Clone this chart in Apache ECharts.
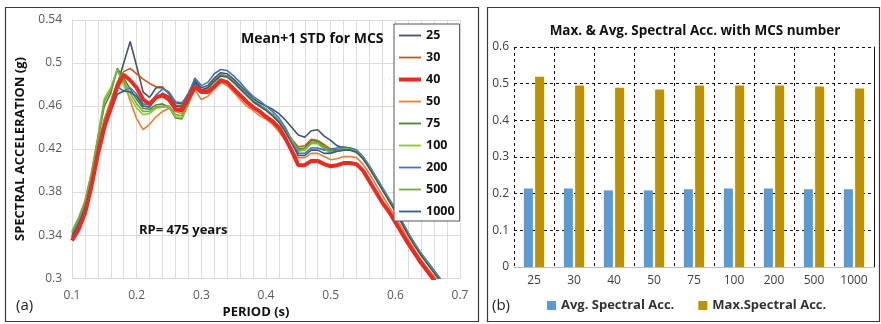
<!DOCTYPE html>
<html><head><meta charset="utf-8">
<script src="https://cdn.jsdelivr.net/npm/echarts@6/dist/echarts.min.js"></script>
<style>html,body{margin:0;padding:0;background:#fff}#c{width:881px;height:324px}</style>
</head><body><div id="c"></div>
<script>
// ---------- Panel (a): spectral acceleration vs period ----------
const periods = [
  0.10,0.11,0.12,0.13,0.14,0.15,0.16,0.17,0.18,0.19,
  0.20,0.21,0.22,0.23,0.24,0.25,0.26,0.27,0.28,0.29,
  0.30,0.31,0.32,0.33,0.34,0.35,0.36,0.37,0.38,0.39,
  0.40,0.41,0.42,0.43,0.44,0.45,0.46,0.47,0.48,0.49,
  0.50,0.51,0.52,0.53,0.54,0.55,0.56,0.57,0.58,0.59,
  0.60,0.61,0.62,0.63,0.64,0.65,0.66,0.67];
const mcsNames = ['25','30','40','50','75','100','200','500','1000'];
const sa25 = [
  0.338,0.349,0.365,0.390,0.422,0.445,0.462,0.480,0.500,0.520,
  0.497,0.473,0.468,0.477,0.477,0.472,0.463,0.462,0.472,0.484,
  0.477,0.479,0.486,0.491,0.490,0.485,0.479,0.473,0.467,0.463,
  0.460,0.457,0.453,0.447,0.440,0.433,0.431,0.437,0.438,0.432,
  0.428,0.423,0.421,0.420,0.418,0.412,0.403,0.393,0.383,0.373,
  0.363,0.352,0.341,0.331,0.322,0.314,0.306,0.298];
const sa30 = [
  0.340,0.351,0.367,0.392,0.424,0.448,0.465,0.482,0.492,0.495,
  0.490,0.485,0.481,0.478,0.478,0.471,0.461,0.460,0.470,0.482,
  0.475,0.477,0.484,0.489,0.488,0.483,0.477,0.471,0.465,0.461,
  0.457,0.452,0.446,0.438,0.429,0.422,0.423,0.429,0.428,0.424,
  0.420,0.419,0.420,0.420,0.417,0.411,0.402,0.392,0.382,0.372,
  0.362,0.351,0.340,0.330,0.321,0.313,0.305,0.297];
const sa40 = [
  0.335,0.345,0.360,0.385,0.415,0.440,0.458,0.478,0.489,0.484,
  0.477,0.466,0.462,0.468,0.470,0.466,0.457,0.456,0.467,0.478,
  0.473,0.473,0.478,0.484,0.482,0.476,0.470,0.464,0.459,0.455,
  0.450,0.446,0.440,0.430,0.418,0.405,0.405,0.409,0.409,0.406,
  0.404,0.405,0.407,0.407,0.406,0.400,0.390,0.380,0.370,0.362,
  0.352,0.342,0.332,0.323,0.314,0.306,0.298,0.290];
const sa50 = [
  0.337,0.348,0.364,0.389,0.420,0.446,0.464,0.480,0.483,0.465,
  0.448,0.438,0.443,0.450,0.455,0.458,0.455,0.453,0.462,0.475,
  0.466,0.469,0.476,0.482,0.479,0.473,0.466,0.460,0.456,0.451,
  0.448,0.443,0.436,0.428,0.419,0.412,0.412,0.416,0.416,0.413,
  0.410,0.411,0.413,0.413,0.412,0.406,0.397,0.387,0.377,0.367,
  0.357,0.347,0.336,0.326,0.317,0.309,0.302,0.294];
const sa75 = [
  0.342,0.354,0.370,0.396,0.429,0.460,0.472,0.495,0.486,0.476,
  0.466,0.458,0.457,0.461,0.462,0.459,0.449,0.448,0.462,0.480,
  0.473,0.476,0.483,0.489,0.488,0.483,0.477,0.471,0.465,0.461,
  0.457,0.452,0.446,0.437,0.428,0.420,0.421,0.428,0.427,0.422,
  0.418,0.419,0.421,0.421,0.419,0.413,0.404,0.394,0.384,0.374,
  0.364,0.353,0.342,0.332,0.323,0.315,0.307,0.299];
const sa100 = [
  0.344,0.356,0.372,0.398,0.432,0.467,0.477,0.494,0.479,0.468,
  0.458,0.452,0.453,0.458,0.459,0.459,0.450,0.449,0.463,0.479,
  0.472,0.475,0.482,0.488,0.487,0.482,0.476,0.470,0.464,0.460,
  0.456,0.451,0.445,0.436,0.427,0.418,0.419,0.425,0.425,0.420,
  0.416,0.418,0.420,0.420,0.418,0.412,0.403,0.393,0.383,0.373,
  0.363,0.352,0.341,0.331,0.322,0.314,0.306,0.298];
const sa200 = [
  0.339,0.350,0.366,0.390,0.420,0.445,0.460,0.478,0.474,0.477,
  0.471,0.462,0.461,0.470,0.476,0.473,0.464,0.463,0.470,0.486,
  0.479,0.482,0.490,0.494,0.493,0.488,0.482,0.475,0.469,0.465,
  0.460,0.455,0.449,0.440,0.428,0.416,0.416,0.421,0.421,0.419,
  0.420,0.421,0.422,0.421,0.419,0.413,0.404,0.394,0.384,0.374,
  0.364,0.353,0.342,0.332,0.323,0.315,0.307,0.299];
const sa500 = [
  0.343,0.355,0.371,0.397,0.430,0.464,0.475,0.493,0.483,0.472,
  0.462,0.455,0.455,0.459,0.460,0.460,0.452,0.451,0.464,0.480,
  0.473,0.476,0.483,0.489,0.488,0.483,0.477,0.471,0.465,0.461,
  0.457,0.452,0.446,0.437,0.428,0.419,0.420,0.426,0.426,0.421,
  0.417,0.418,0.419,0.420,0.418,0.412,0.403,0.393,0.383,0.373,
  0.363,0.352,0.341,0.331,0.322,0.314,0.306,0.298];
const sa1000 = [
  0.338,0.349,0.364,0.388,0.418,0.442,0.455,0.471,0.474,0.473,
  0.469,0.460,0.459,0.467,0.472,0.469,0.460,0.459,0.468,0.482,
  0.475,0.477,0.483,0.488,0.487,0.482,0.476,0.470,0.464,0.460,
  0.456,0.451,0.445,0.436,0.425,0.414,0.414,0.419,0.419,0.416,
  0.416,0.418,0.419,0.419,0.417,0.411,0.402,0.392,0.382,0.372,
  0.362,0.351,0.340,0.330,0.321,0.313,0.305,0.297];

// ---------- Panel (b): max & avg spectral acc ----------
const barCategories = ['25','30','40','50','75','100','200','500','1000'];
const avgSpectralAcc = [0.214,0.214,0.209,0.209,0.212,0.214,0.214,0.212,0.212];
const maxSpectralAcc = [0.519,0.495,0.489,0.484,0.495,0.495,0.495,0.492,0.487];

const lineSets = [sa25, sa30, sa40, sa50, sa75, sa100, sa200, sa500, sa1000];
const lineColors = ['#44546A','#C55A11','#EE2A1F','#F47A30','#548235','#8FCB1E','#4472C4','#70AD47','#2F5D8C'];
const lineWidths = [1.6,1.6,4,1.6,1.6,1.6,1.6,1.6,1.6];

const FONT = '"Open Sans", Lato, sans-serif';
const chart = echarts.init(document.getElementById('c'), null, {renderer: 'canvas'});

const lineSeries = lineSets.map((arr, k) => ({
  name: mcsNames[k], type: 'line', xAxisIndex: 0, yAxisIndex: 0,
  symbol: 'none', data: periods.map((p, i) => [p, arr[i]]),
  lineStyle: {color: lineColors[k], width: lineWidths[k]},
  itemStyle: {color: lineColors[k]},
  z: k === 2 ? 3 : 2
}));

const legendLineItems = mcsNames.map((n, k) => ({
  name: n,
  icon: k === 2 ? 'path://M0,0h22v4h-22z' : 'path://M0,0h22v1.8h-22z'
}));

const option = {
  animation: false,
  backgroundColor: '#fff',
  textStyle: {fontFamily: FONT},
  title: [
    {text: 'Mean+1 STD for MCS', left: 236, top: 27, textStyle: {fontFamily: FONT, fontSize: 14, fontWeight: 'bold', color: '#111'}},
    {text: 'RP= 475 years', left: 134, top: 219, textStyle: {fontFamily: FONT, fontSize: 13, fontWeight: 'bold', color: '#111'}},
    {text: '(a)', left: 11, top: 293, textStyle: {fontFamily: FONT, fontSize: 15, fontWeight: 'normal', color: '#222'}},
    {text: 'Max. & Avg. Spectral Acc. with MCS number', left: 690, textAlign: 'center', top: 19, textStyle: {fontFamily: FONT, fontSize: 13.5, fontWeight: 'bold', color: '#111'}},
    {text: '(b)', left: 487, top: 293, textStyle: {fontFamily: FONT, fontSize: 15, fontWeight: 'normal', color: '#222'}}
  ],
  graphic: [
    {type: 'rect', shape: {x: 5.5, y: 7.5, width: 473, height: 314}, style: {fill: 'none', stroke: '#3a3a3a', lineWidth: 1.2}, z: -1},
    {type: 'rect', shape: {x: 487.5, y: 7.5, width: 392, height: 314}, style: {fill: 'none', stroke: '#3a3a3a', lineWidth: 1.2}, z: -1}
  ],
  legend: [
    {
      data: legendLineItems, orient: 'vertical', left: 394, top: 24,
      itemWidth: 22, itemHeight: 14, itemGap: 9, padding: [5, 5, 3, 5],
      backgroundColor: '#fff', borderColor: '#555', borderWidth: 1,
      textStyle: {fontFamily: FONT, fontSize: 12.5, fontWeight: 'bold', color: '#111'},
      z: 10
    },
    {
      data: ['Avg. Spectral Acc.', 'Max.Spectral Acc.'], orient: 'horizontal', left: 542, top: 294,
      itemWidth: 9, itemHeight: 9, itemGap: 24, icon: 'rect',
      textStyle: {fontFamily: FONT, fontSize: 13, fontWeight: 'bold', color: '#333'}
    }
  ],
  grid: [
    {left: 72, top: 20, width: 388, height: 263, containLabel: false},
    {left: 514, top: 47, right: 7, bottom: 57, containLabel: false}
  ],
  xAxis: [
    {
      type: 'value', gridIndex: 0, min: 0.1, max: 0.7, interval: 0.1,
      name: 'PERIOD (s)', nameLocation: 'middle', nameGap: 25,
      nameTextStyle: {fontFamily: FONT, fontSize: 13, fontWeight: 'bold', color: '#111', padding: [0, 20, 0, 0]},
      axisLine: {show: true, lineStyle: {color: '#D9D9D9'}},
      axisTick: {show: false},
      axisLabel: {color: '#595959', fontSize: 12, margin: 11, fontFamily: FONT},
      splitLine: {show: true, lineStyle: {color: '#DCDCDC', width: 1}},
      minorTick: {show: false, splitNumber: 5},
      minorSplitLine: {show: true, lineStyle: {color: '#DCDCDC', width: 1}}
    },
    {
      type: 'category', gridIndex: 1, data: barCategories,
      axisLine: {show: true, lineStyle: {color: '#BFBFBF'}},
      axisTick: {show: false},
      axisLabel: {color: '#404040', fontSize: 12, margin: 8, fontFamily: FONT},
      splitLine: {show: true, lineStyle: {color: '#111', type: [3, 3], width: 1}}
    }
  ],
  yAxis: [
    {
      type: 'value', gridIndex: 0, min: 0.3, max: 0.54, interval: 0.04,
      name: 'SPECTRAL ACCELERATION (g)', nameLocation: 'middle', nameGap: 45,
      nameTextStyle: {fontFamily: FONT, fontSize: 13, fontWeight: 'bold', color: '#111'},
      axisLine: {show: true, lineStyle: {color: '#D9D9D9'}},
      axisTick: {show: false},
      axisLabel: {color: '#595959', fontSize: 12, margin: 10, fontFamily: FONT},
      splitLine: {show: true, lineStyle: {color: '#DCDCDC', width: 1}}
    },
    {
      type: 'value', gridIndex: 1, min: 0, max: 0.6, interval: 0.1,
      axisLine: {show: false}, axisTick: {show: false},
      axisLabel: {color: '#404040', fontSize: 12, margin: 5, fontFamily: FONT},
      splitLine: {show: true, lineStyle: {color: '#111', type: [3, 3], width: 1}}
    },
    {
      type: 'value', gridIndex: 1, min: 0, max: 0.6, position: 'right',
      axisLine: {show: true, lineStyle: {color: '#111', width: 1}},
      axisTick: {show: false}, axisLabel: {show: false}, splitLine: {show: false}
    }
  ],
  series: lineSeries.concat([
    {
      name: 'Avg. Spectral Acc.', type: 'bar', xAxisIndex: 1, yAxisIndex: 1,
      data: avgSpectralAcc, barWidth: 9, barGap: '25%',
      itemStyle: {color: '#5B9BD5'}
    },
    {
      name: 'Max.Spectral Acc.', type: 'bar', xAxisIndex: 1, yAxisIndex: 1,
      data: maxSpectralAcc, barWidth: 9, barGap: '25%',
      itemStyle: {color: '#BF9000'}
    }
  ])
};
chart.setOption(option);
</script>
</body></html>
